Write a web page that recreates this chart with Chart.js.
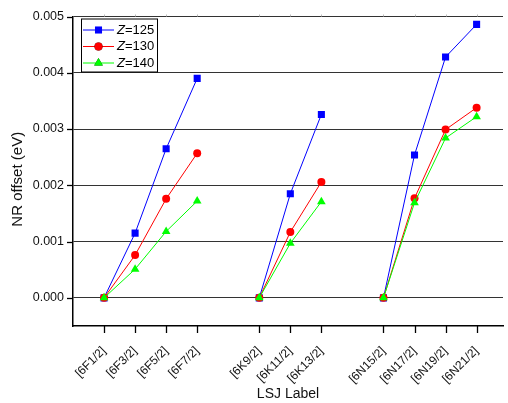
<!DOCTYPE html>
<html>
<head>
<meta charset="utf-8">
<script src="https://cdn.jsdelivr.net/npm/chart.js@4"></script>
<style>
  html, body { margin: 0; padding: 0; background: #fff; }
  #wrap { width: 508px; height: 403px; }
</style>
</head>
<body>
<div id="wrap"><canvas id="myChart"></canvas></div>
<script>
/* global Chart */

// LSJ labels, one list per term group
const groupF = ["[6F1/2]", "[6F3/2]", "[6F5/2]", "[6F7/2]"];
const groupK = ["[6K9/2]", "[6K11/2]", "[6K13/2]"];
const groupN = ["[6N15/2]", "[6N17/2]", "[6N19/2]", "[6N21/2]"];

const seriesZ = ["125", "130", "140"];

// NR offset (eV), same order as the labels above
const z125 = [0, 0.00115, 0.00265, 0.0039, 0, 0.00185, 0.00326, 0, 0.00254, 0.00428, 0.00486];
const z130 = [0, 0.00076, 0.00176, 0.00257, 0, 0.00117, 0.00206, 0, 0.00177, 0.00299, 0.00338];
const z140 = [0, 0.00051, 0.00118, 0.00172, 0, 0.00097, 0.00171, 0, 0.00169, 0.00284, 0.00322];

const colors = ["#0000ff", "#ff0000", "#00ff00"];
const markers = ["rect", "circle", "triangle"];
const radii = [5, 4, 5];

// x positions: groups laid out side by side with one empty slot between them
const groups = [groupF, groupK, groupN];
const labelAt = {};
const slots = []; // position for each value, null = break
let pos = 1;
groups.forEach((g) => {
  g.forEach((l) => {
    labelAt[pos] = l;
    slots.push(pos);
    pos++;
  });
  slots.push(null);
  pos++;
});

function toPoints(values) {
  const pts = [];
  let i = 0;
  let last = 0;
  slots.forEach((s) => {
    if (s === null) {
      pts.push({ x: last + 1, y: null });
    } else {
      pts.push({ x: s, y: values[i] });
      last = s;
      i++;
    }
  });
  return pts;
}

const isMajorY = (v) => Math.abs(v * 1000 - Math.round(v * 1000)) < 1e-6;

// outward tick marks (major + minor), small top ticks, y title
const axisTicks = {
  id: "axisTicks",
  afterDraw(chart) {
    const { ctx, chartArea: a, scales } = chart;
    const x = scales.x;
    const y = scales.y;
    ctx.save();
    ctx.strokeStyle = "#000";
    ctx.lineWidth = 1.3;
    x.ticks.forEach((t) => {
      const px = Math.round(x.getPixelForValue(t.value)) + 0.5;
      const major = Math.abs(t.value - Math.round(t.value)) < 1e-6;
      ctx.beginPath();
      ctx.moveTo(px, a.bottom);
      ctx.lineTo(px, a.bottom + (major ? 7 : 3));
      ctx.stroke();
    });
    y.ticks.forEach((t) => {
      const py = Math.round(y.getPixelForValue(t.value)) + 0.5;
      ctx.beginPath();
      ctx.moveTo(a.left, py);
      ctx.lineTo(a.left - (isMajorY(t.value) ? 6 : 3), py);
      ctx.stroke();
    });
    ctx.strokeStyle = "#bbb";
    ctx.lineWidth = 1;
    x.ticks.forEach((t) => {
      const px = Math.round(x.getPixelForValue(t.value)) + 0.5;
      ctx.beginPath();
      ctx.moveTo(px, a.top);
      ctx.lineTo(px, a.top - 2);
      ctx.stroke();
    });
    // y axis title, sits a little below the plot centre like the original
    ctx.translate(18, (a.top + a.bottom) / 2 + 8);
    ctx.rotate(-Math.PI / 2);
    ctx.fillStyle = "#111";
    ctx.font = "15px Arial";
    ctx.textAlign = "center";
    ctx.textBaseline = "middle";
    ctx.fillText("NR offset (eV)", 0, 0);
    ctx.restore();
  },
};

// framed legend with line + marker samples and italic Z
const boxLegend = {
  id: "boxLegend",
  afterDraw(chart) {
    const { ctx, chartArea: a } = chart;
    const left = a.left + 8;
    const top = a.top + 2;
    ctx.save();
    ctx.fillStyle = "#fff";
    ctx.fillRect(left, top, 76, 53);
    ctx.strokeStyle = "#000";
    ctx.lineWidth = 1;
    ctx.strokeRect(left + 0.5, top + 0.5, 76, 53);
    seriesZ.forEach((z, i) => {
      const cy = top + 11.5 + i * 16.5;
      ctx.strokeStyle = colors[i];
      ctx.lineWidth = 1;
      ctx.beginPath();
      ctx.moveTo(left + 2, cy);
      ctx.lineTo(left + 33, cy);
      ctx.stroke();
      Chart.helpers.drawPoint(ctx, {
        pointStyle: markers[i],
        radius: radii[i],
        rotation: 0,
        borderWidth: 0,
      }, left + 17.5, cy);
      ctx.fillStyle = colors[i];
      ctx.fill();
      ctx.fillStyle = "#000";
      ctx.textBaseline = "middle";
      ctx.font = "italic 13px Arial";
      const tx = left + 36;
      ctx.fillText("Z", tx, cy);
      const w = ctx.measureText("Z").width;
      ctx.font = "13px Arial";
      ctx.fillText("=" + z, tx + w, cy);
    });
    ctx.restore();
  },
};

const ctx = document.getElementById("myChart").getContext("2d");

new Chart(ctx, {
  type: "line",
  data: {
    datasets: [z125, z130, z140].map((vals, i) => ({
      label: "Z=" + seriesZ[i],
      data: toPoints(vals),
      borderColor: colors[i],
      backgroundColor: colors[i],
      borderWidth: 1,
      pointStyle: markers[i],
      pointRadius: radii[i],
      pointBorderWidth: 0,
      pointHoverRadius: radii[i],
      spanGaps: false,
      order: 2 - i,
    })),
  },
  options: {
    responsive: true,
    maintainAspectRatio: false,
    animation: false,
    layout: { padding: { top: 15, right: 0, left: 0, bottom: 0 } },
    plugins: {
      legend: { display: false },
      tooltip: { enabled: false },
    },
    scales: {
      x: {
        type: "linear",
        min: 0,
        max: 13.85,
        afterFit: (s) => { s.height = 77; },
        grid: { display: false },
        border: { color: "#000", width: 1.5 },
        ticks: {
          stepSize: 0.5,
          includeBounds: false,
          autoSkip: false,
          minRotation: 45,
          maxRotation: 45,
          padding: 10,
          color: "#111",
          font: { family: "Arial", size: 12 },
          callback: (v) => labelAt[v] || null,
        },
        title: {
          display: true,
          text: "LSJ Label",
          color: "#111",
          font: { family: "Arial", size: 14 },
          padding: { top: 0, bottom: 0 },
        },
      },
      y: {
        min: -0.0005,
        max: 0.005,
        afterFit: (s) => { s.width = 73; },
        border: { color: "#000", width: 1.5 },
        grid: {
          drawTicks: false,
          color: (c) => (c.tick && isMajorY(c.tick.value) ? "#333" : "rgba(0,0,0,0)"),
          lineWidth: 1,
        },
        ticks: {
          stepSize: 0.0005,
          padding: 9,
          color: "#111",
          font: { family: "Arial", size: 12.5 },
          callback: (v) => (isMajorY(v) && v >= 0 ? v.toFixed(3) : null),
        },
      },
    },
  },
  plugins: [axisTicks, boxLegend],
});
</script>
</body>
</html>
